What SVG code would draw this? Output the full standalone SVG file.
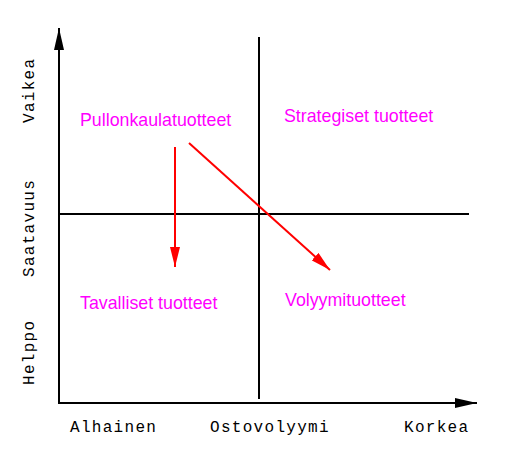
<svg xmlns="http://www.w3.org/2000/svg" width="517" height="466" viewBox="0 0 517 466">
<style>
.ax{stroke:#000;stroke-width:2;fill:none}
.red{stroke:#f00;stroke-width:2;fill:none}
.lbl{font-family:"Liberation Sans",Arial,sans-serif;font-size:17.8px;fill:#f0f}
.mono{font-family:"Liberation Mono","Courier New",monospace;font-size:16px;letter-spacing:1.3px;fill:#000}
</style>
<defs>
<marker id="ah" markerWidth="22" markerHeight="10" refX="22" refY="5" orient="auto" markerUnits="userSpaceOnUse"><path d="M0,0 L22,5 L0,10 z" fill="#000"/></marker>
<marker id="rh" markerWidth="20" markerHeight="10" refX="20" refY="5" orient="auto" markerUnits="userSpaceOnUse"><path d="M0,0 L20,5 L0,10 z" fill="#f00"/></marker>
</defs>
<rect width="517" height="466" fill="#fff"/>
<g id="connectors">
<path class="ax" d="M59,404 L59,28" marker-end="url(#ah)"/>
<path class="ax" d="M58,403 L477,403" marker-end="url(#ah)"/>
<path class="ax" d="M259,37 L259,399"/>
<path class="ax" d="M60,214 L469,214"/>
<path class="red" d="M175,147 L175,267" marker-end="url(#rh)"/>
<path class="red" d="M189,143 L330,270" marker-end="url(#rh)"/>
</g>
<g id="n-pullonkaula"><text class="lbl" x="80" y="126">Pullonkaulatuotteet</text></g>
<g id="n-strategiset"><text class="lbl" x="284" y="122">Strategiset tuotteet</text></g>
<g id="n-tavalliset"><text class="lbl" x="80" y="309">Tavalliset tuotteet</text></g>
<g id="n-volyymi"><text class="lbl" x="285" y="306">Volyymituotteet</text></g>
<g id="axis-labels">
<text class="mono" x="70" y="432">Alhainen</text>
<text class="mono" x="210" y="432">Ostovolyymi</text>
<text class="mono" x="404" y="432">Korkea</text>
<text class="mono" transform="translate(34,123) rotate(-90)">Vaikea</text>
<text class="mono" transform="translate(34,277) rotate(-90)">Saatavuus</text>
<text class="mono" transform="translate(34,385) rotate(-90)">Helppo</text>
</g>
</svg>
